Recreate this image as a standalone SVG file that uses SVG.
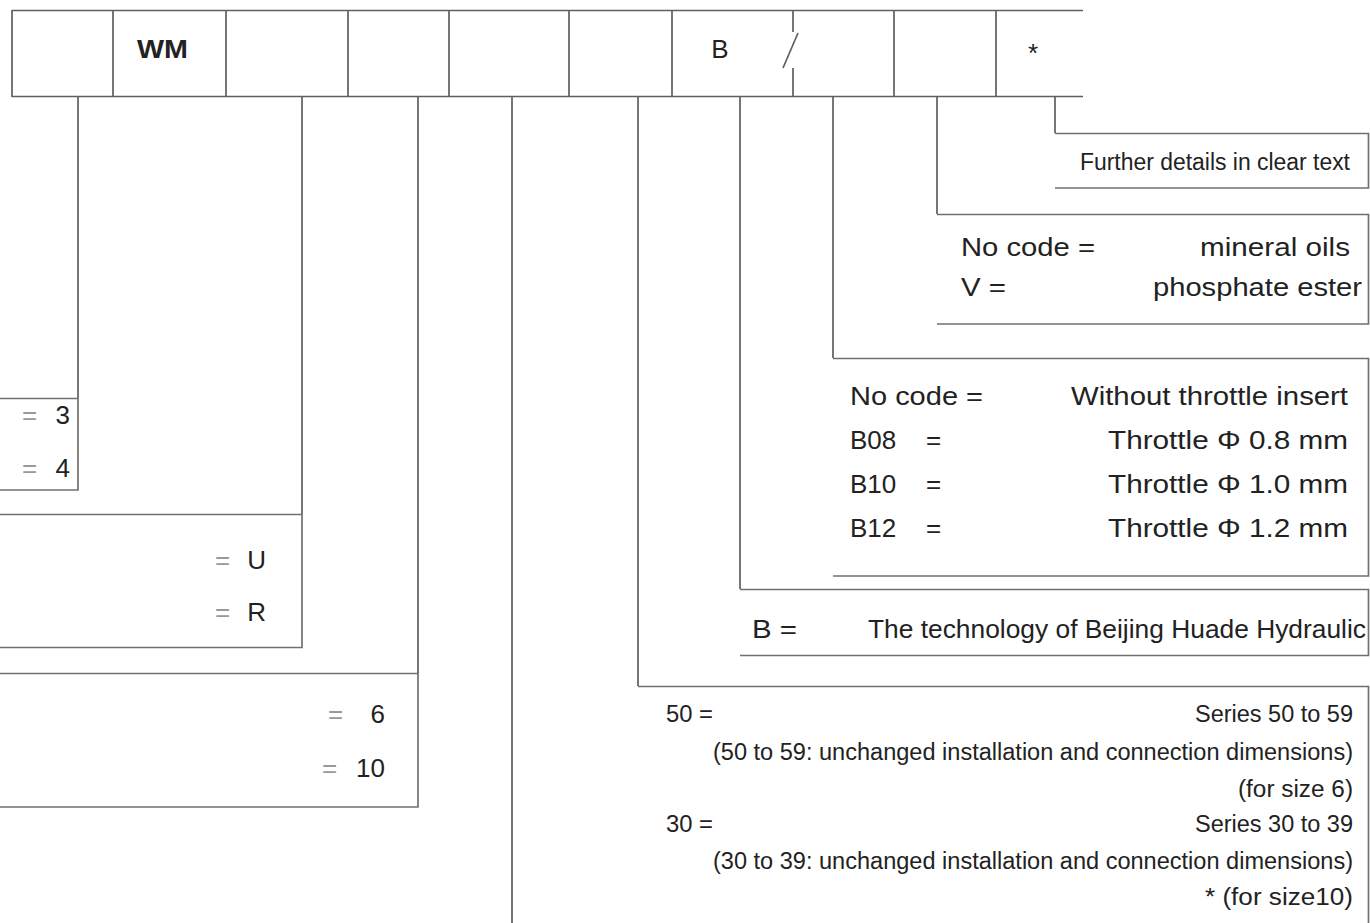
<svg xmlns="http://www.w3.org/2000/svg" width="1370" height="923" viewBox="0 0 1370 923">
<style>
.ln{stroke:#5f5f5f;stroke-width:1.7;fill:none}
.bx{stroke:#707070;stroke-width:1.7;fill:none}
.t{font-family:"Liberation Sans",Arial,sans-serif;font-size:26px;fill:#222}
.c{font-family:"Liberation Sans",Arial,sans-serif;font-size:23px;fill:#222}
.eq{fill:#999}
.e{text-anchor:end}
</style>
<rect width="1370" height="923" fill="#fff"/>
<g id="header">
<path class="ln" d="M12 10.5H1083M12 96.5H1083M12 10V97M113 10V97M226 10V97M348 10V97M449 10V97M569 10V97M672 10V97M793 10V32M793 68V97M894 10V97M996 10V97"/>
<path class="ln" d="M798 33L783 68"/>
<text class="t" x="137" y="58" font-weight="bold" font-size="24" textLength="51" lengthAdjust="spacingAndGlyphs">WM</text>
<text class="t" x="720" y="58" text-anchor="middle">B</text>
<text class="t" x="1033" y="62" text-anchor="middle" font-size="16">*</text>
</g>
<g id="connectors">
<path class="ln" d="M78 97V398M302 97V514M418 97V673M512 97V923M638 97V686M740 97V589M833 97V358M937 97V214M1055 97V133"/>
</g>
<g id="n-3-4">
<path class="bx" d="M0 398.5H78V490H0"/>
<text class="t eq" x="22" y="424">=</text><text class="t e" x="70" y="424">3</text>
<text class="t eq" x="22" y="477">=</text><text class="t e" x="70" y="477">4</text>
</g>
<g id="n-u-r">
<path class="bx" d="M0 514.5H302V647.5H0"/>
<text class="t eq" x="215" y="569">=</text><text class="t e" x="266" y="569">U</text>
<text class="t eq" x="215" y="621">=</text><text class="t e" x="266" y="621">R</text>
</g>
<g id="n-6-10">
<path class="bx" d="M0 673.5H418V807H0"/>
<text class="t eq" x="328" y="723">=</text><text class="t e" x="385" y="723">6</text>
<text class="t eq" x="322" y="777">=</text><text class="t e" x="385" y="777">10</text>
</g>
<g id="n-series">
<path class="bx" d="M638 686.5H1368.5V923"/>
<text class="c" x="666" y="722" textLength="47" lengthAdjust="spacingAndGlyphs">50 =</text>
<text class="c e" x="1353" y="722" textLength="158" lengthAdjust="spacingAndGlyphs">Series 50 to 59</text>
<text class="c e" x="1353" y="760" textLength="640" lengthAdjust="spacingAndGlyphs">(50 to 59: unchanged installation and connection dimensions)</text>
<text class="c e" x="1353" y="797" textLength="115" lengthAdjust="spacingAndGlyphs">(for size 6)</text>
<text class="c" x="666" y="832" textLength="47" lengthAdjust="spacingAndGlyphs">30 =</text>
<text class="c e" x="1353" y="832" textLength="158" lengthAdjust="spacingAndGlyphs">Series 30 to 39</text>
<text class="c e" x="1353" y="869" textLength="640" lengthAdjust="spacingAndGlyphs">(30 to 39: unchanged installation and connection dimensions)</text>
<text class="c e" x="1353" y="905" textLength="148" lengthAdjust="spacingAndGlyphs">*  (for size10)</text>
</g>
<g id="n-b">
<path class="bx" d="M740 589.5H1368.5V655.5H740"/>
<text class="t" x="752" y="638" textLength="45" lengthAdjust="spacingAndGlyphs">B =</text>
<text class="t" x="868" y="638" textLength="498" lengthAdjust="spacingAndGlyphs">The technology of Beijing Huade Hydraulic</text>
</g>
<g id="n-throttle">
<path class="bx" d="M833 358.5H1368.5V576H833"/>
<text class="t" x="850" y="405" textLength="133" lengthAdjust="spacingAndGlyphs">No code =</text>
<text class="t e" x="1348" y="405" textLength="277" lengthAdjust="spacingAndGlyphs">Without throttle insert</text>
<text class="t" x="850" y="449">B08</text><text class="t" x="926" y="449">=</text>
<text class="t e" x="1348" y="449" textLength="240" lengthAdjust="spacingAndGlyphs">Throttle Φ 0.8 mm</text>
<text class="t" x="850" y="493">B10</text><text class="t" x="926" y="493">=</text>
<text class="t e" x="1348" y="493" textLength="240" lengthAdjust="spacingAndGlyphs">Throttle Φ 1.0 mm</text>
<text class="t" x="850" y="537">B12</text><text class="t" x="926" y="537">=</text>
<text class="t e" x="1348" y="537" textLength="240" lengthAdjust="spacingAndGlyphs">Throttle Φ 1.2 mm</text>
</g>
<g id="n-fluid">
<path class="bx" d="M937 214.5H1368.5V324H937"/>
<text class="t" x="961" y="256" textLength="134" lengthAdjust="spacingAndGlyphs">No code =</text>
<text class="t e" x="1350" y="256" textLength="150" lengthAdjust="spacingAndGlyphs">mineral oils</text>
<text class="t" x="961" y="296" textLength="45" lengthAdjust="spacingAndGlyphs">V =</text>
<text class="t e" x="1362" y="296" textLength="209" lengthAdjust="spacingAndGlyphs">phosphate ester</text>
</g>
<g id="n-details">
<path class="bx" d="M1055 133.5H1368.5V188H1055"/>
<text class="c" x="1080" y="170" textLength="270" lengthAdjust="spacingAndGlyphs">Further details in clear text</text>
</g>
</svg>
